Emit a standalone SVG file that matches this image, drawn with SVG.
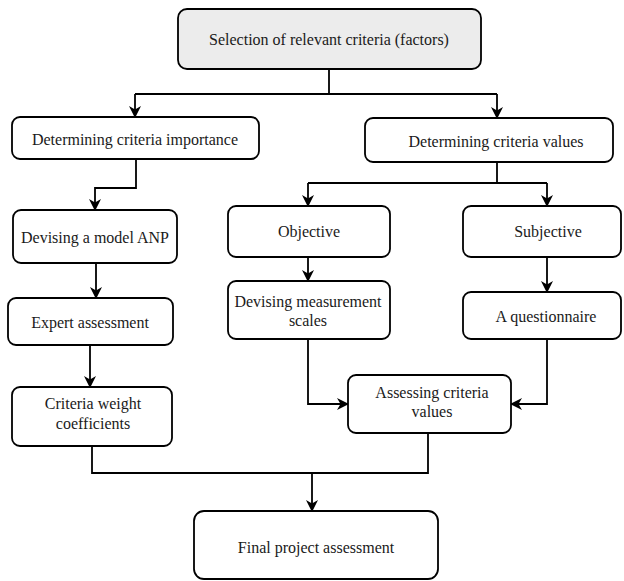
<svg xmlns="http://www.w3.org/2000/svg" width="624" height="581" viewBox="0 0 624 581">
<defs>
<style>
.box{fill:#ffffff;stroke:#000;stroke-width:1.8}
.top{fill:#ececec}
.t{font-family:"Liberation Serif","DejaVu Serif","Times New Roman",serif;font-size:16px;fill:#1a1a1a;text-anchor:middle}
.c{fill:none;stroke:#000;stroke-width:1.8}
</style>
<marker id="ah" viewBox="0 0 12 12" markerWidth="12" markerHeight="12" refX="11" refY="6" orient="auto" markerUnits="userSpaceOnUse">
<path d="M0,0 L12,6 L0,12 L3.5,6 Z" fill="#000"/>
</marker>
</defs>
<rect width="624" height="581" fill="#fff"/>
<g id="connectors">
<path class="c" d="M329,69 V94"/>
<path class="c" d="M135,94 H497"/>
<path class="c" d="M135,94 V117" marker-end="url(#ah)"/>
<path class="c" d="M497,94 V118" marker-end="url(#ah)"/>
<path class="c" d="M136,159 V188 H95 V210" marker-end="url(#ah)"/>
<path class="c" d="M497,162 V183"/>
<path class="c" d="M308,183 H547"/>
<path class="c" d="M308,183 V206" marker-end="url(#ah)"/>
<path class="c" d="M547,183 V206" marker-end="url(#ah)"/>
<path class="c" d="M96,263 V298" marker-end="url(#ah)"/>
<path class="c" d="M90,345 V387" marker-end="url(#ah)"/>
<path class="c" d="M308,257 V281" marker-end="url(#ah)"/>
<path class="c" d="M547,257 V292" marker-end="url(#ah)"/>
<path class="c" d="M308,339 V404 H348" marker-end="url(#ah)"/>
<path class="c" d="M547,339 V404 H511" marker-end="url(#ah)"/>
<path class="c" d="M92,446 V473 H428 V433"/>
<path class="c" d="M312,473 V511" marker-end="url(#ah)"/>
</g>
<g id="n-selection">
<rect class="box top" x="178" y="9" width="303" height="60" rx="9"/>
<text class="t" x="329" y="45">Selection of relevant criteria (factors)</text>
</g>
<g id="n-importance">
<rect class="box" x="12" y="117" width="247" height="42" rx="8"/>
<text class="t" x="135" y="145">Determining criteria importance</text>
</g>
<g id="n-values">
<rect class="box" x="365" y="118" width="248" height="44" rx="8"/>
<text class="t" x="496" y="147">Determining criteria values</text>
</g>
<g id="n-anp">
<rect class="box" x="13" y="210" width="164" height="53" rx="8"/>
<text class="t" x="95" y="243">Devising a model ANP</text>
</g>
<g id="n-objective">
<rect class="box" x="228" y="206" width="162" height="51" rx="8"/>
<text class="t" x="309" y="237">Objective</text>
</g>
<g id="n-subjective">
<rect class="box" x="463" y="206" width="158" height="51" rx="8"/>
<text class="t" x="548" y="237">Subjective</text>
</g>
<g id="n-expert">
<rect class="box" x="8" y="298" width="165" height="47" rx="8"/>
<text class="t" x="90" y="328">Expert assessment</text>
</g>
<g id="n-scales">
<rect class="box" x="228" y="281" width="162" height="58" rx="8"/>
<text class="t" x="308" y="307">Devising measurement</text>
<text class="t" x="308" y="326">scales</text>
</g>
<g id="n-questionnaire">
<rect class="box" x="463" y="292" width="158" height="47" rx="8"/>
<text class="t" x="546" y="322">A questionnaire</text>
</g>
<g id="n-weights">
<rect class="box" x="12" y="387" width="160" height="59" rx="8"/>
<text class="t" x="93" y="409">Criteria weight</text>
<text class="t" x="93" y="429">coefficients</text>
</g>
<g id="n-assessing">
<rect class="box" x="348" y="375" width="163" height="58" rx="8"/>
<text class="t" x="432" y="398">Assessing criteria</text>
<text class="t" x="432" y="417">values</text>
</g>
<g id="n-final">
<rect class="box" x="194" y="511" width="244" height="68" rx="10"/>
<text class="t" x="316" y="553">Final project assessment</text>
</g>
</svg>
